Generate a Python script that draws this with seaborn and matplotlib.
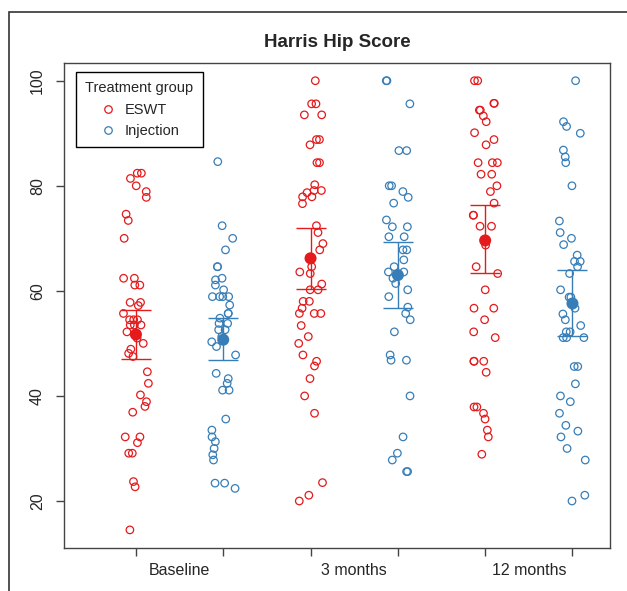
import pandas as pd
import numpy as np
import matplotlib
matplotlib.use("Agg")
import matplotlib.pyplot as plt
import seaborn as sns
from matplotlib.lines import Line2D
from matplotlib.patches import Rectangle

# ----------------------------
# Data
# ----------------------------
baseline_eswt = [82.4, 82.4, 81.4, 80.0, 78.9, 77.8, 74.6, 73.4, 70.0, 62.4, 62.4, 61.1,
                 61.1, 57.8, 57.8, 57.2, 55.7, 54.5, 54.5, 54.5, 53.5, 53.5, 53.5, 52.2,
                 51.0, 50.0, 48.9, 48.1, 47.5, 44.6, 42.4, 40.2, 38.9, 38.0, 36.9, 32.2,
                 32.2, 31.1, 29.1, 29.1, 23.7, 22.7, 14.5]
baseline_inj = [84.6, 72.4, 70.0, 67.8, 64.6, 64.6, 62.4, 62.1, 61.1, 60.2, 58.9, 58.9,
                58.9, 58.9, 57.3, 55.7, 55.7, 54.8, 53.8, 53.8, 52.6, 52.6, 51.3, 50.3,
                49.4, 47.8, 44.3, 43.3, 42.4, 41.1, 41.1, 35.6, 33.5, 32.2, 31.3, 30.0,
                28.8, 27.8, 23.4, 23.4, 22.4]
m3_eswt = [100.0, 95.6, 95.6, 93.5, 93.5, 88.8, 88.8, 87.8, 84.4, 84.4, 80.2, 79.1, 79.1,
           78.7, 77.9, 77.9, 76.6, 72.4, 71.1, 69.0, 67.8, 64.6, 63.6, 63.3, 61.3, 60.2,
           60.2, 58.0, 58.0, 56.7, 55.7, 55.7, 55.7, 53.4, 51.3, 50.0, 47.8, 46.6, 45.7,
           43.3, 40.0, 36.7, 23.5, 21.1, 20.0]
m3_inj = [100.0, 100.0, 95.6, 86.7, 86.7, 80.0, 80.0, 78.9, 77.8, 76.7, 73.5, 72.2, 72.2,
          70.3, 70.3, 67.8, 67.8, 65.9, 64.6, 63.6, 63.6, 62.4, 61.4, 60.2, 58.9, 56.9,
          55.7, 54.5, 52.2, 47.8, 46.8, 46.8, 40.0, 32.2, 29.1, 27.8, 25.6, 25.6]
m12_eswt = [100.0, 100.0, 95.7, 95.7, 94.4, 94.4, 93.3, 92.2, 90.1, 88.8, 87.8, 84.4, 84.4,
            84.4, 82.2, 82.2, 80.0, 78.9, 76.7, 74.4, 74.4, 72.3, 72.3, 68.7, 64.6, 63.3,
            60.2, 56.7, 56.7, 54.5, 52.2, 51.1, 46.6, 46.6, 46.6, 44.5, 37.9, 37.9, 36.7,
            35.6, 33.5, 32.2, 28.9]
m12_inj = [100.0, 92.2, 91.3, 90.0, 86.8, 85.5, 84.4, 80.0, 73.3, 71.1, 70.0, 68.8, 66.8,
           65.6, 65.6, 64.6, 63.3, 60.2, 58.8, 58.8, 56.7, 55.6, 54.5, 53.4, 52.2, 52.2,
           51.1, 51.1, 51.1, 45.6, 45.6, 42.3, 40.0, 38.9, 36.7, 34.4, 33.3, 32.2, 30.0,
           27.8, 21.1, 20.0]

groups = ["ESWT", "Injection", "ESWT", "Injection", "ESWT", "Injection"]
series = [baseline_eswt, baseline_inj, m3_eswt, m3_inj, m12_eswt, m12_inj]
x_pos = [1, 2, 3, 4, 5, 6]
time_labels = ["Baseline", "3 months", "12 months"]

# group means and 95% CI
means = [51.7, 50.7, 66.2, 63.0, 69.6, 57.6]
ci_low = [47.1, 46.8, 60.4, 56.7, 63.4, 51.4]
ci_high = [56.4, 54.8, 72.0, 69.3, 76.3, 63.9]

palette = {"ESWT": "#E41A1C", "Injection": "#377EB8"}

rows = []
for x, g, vals in zip(x_pos, groups, series):
    for v in vals:
        rows.append({"pos": x, "score": v, "group": g})
df = pd.DataFrame(rows)

summary = pd.DataFrame({"pos": x_pos, "group": groups, "mean": means,
                        "lo": ci_low, "hi": ci_high})

# ----------------------------
# Plot
# ----------------------------
sns.set_style("white")
plt.rcParams["font.family"] = ["Liberation Sans", "DejaVu Sans"]

fig = plt.figure(figsize=(6.27, 5.91), dpi=100)
ax = fig.add_axes([0.1026, 0.0728, 0.8703, 0.8211])

np.random.seed(3)
sns.stripplot(data=df, x="pos", y="score", hue="group", palette=palette,
              native_scale=True, jitter=0.15, size=5.4, linewidth=0.9,
              legend=False, ax=ax, zorder=2)

# open circles like R's pch=1
for coll in ax.collections:
    fc = coll.get_facecolors()
    coll.set_edgecolors(fc)
    coll.set_facecolors("none")

for g, sub in summary.groupby("group"):
    ax.errorbar(sub["pos"], sub["mean"],
                yerr=[sub["mean"] - sub["lo"], sub["hi"] - sub["mean"]],
                fmt="none", ecolor=palette[g], elinewidth=1.0, capsize=10.5,
                capthick=1.0, zorder=3)
sns.scatterplot(data=summary, x="pos", y="mean", hue="group", palette=palette,
                s=75, linewidth=0, legend=False, ax=ax, zorder=4)

ax.set_xlim(0.18, 6.43)
ax.set_ylim(11.06, 103.43)

ax.set_xticks(x_pos)
ax.set_xticklabels([])
ax.set_xticks([1.5, 3.5, 5.5], minor=True)
ax.set_xticklabels(time_labels, minor=True, fontsize=11.5)
ax.tick_params(axis="x", which="major", length=6, width=1, color="#444",
               direction="out", bottom=True)
ax.tick_params(axis="x", which="minor", length=0, pad=11)

ax.set_yticks([20, 40, 60, 80, 100])
ax.set_yticklabels(["20", "40", "60", "80", "100"], rotation=90, va="center",
                   fontsize=11.5)
ax.tick_params(axis="y", length=6, width=1, color="#444", direction="out",
               left=True, pad=8)

ax.set_xlabel("")
ax.set_ylabel("")
for sp in ax.spines.values():
    sp.set_visible(True)
    sp.set_color("#444")
    sp.set_linewidth(1.0)

ax.set_title("Harris Hip Score", fontsize=13.5, fontweight="bold", pad=11)

# ----------------------------
# Legend
# ----------------------------
handles = [Line2D([], [], marker="o", linestyle="none", markersize=5.4,
                  markerfacecolor="none", markeredgecolor=palette[g],
                  markeredgewidth=0.9) for g in ["ESWT", "Injection"]]
leg = ax.legend(handles, ["ESWT", "Injection"], title="Treatment group",
                loc="upper left", bbox_to_anchor=(0.0214, 0.981),
                borderaxespad=0, fontsize=10.5, title_fontsize=10.5,
                frameon=True, fancybox=False, framealpha=1, edgecolor="black",
                handlelength=1.1, handletextpad=0.6, labelspacing=0.5,
                borderpad=0.65)
leg.get_frame().set_linewidth(1.0)

# outer frame of the original device
fig.add_artist(Rectangle((9 / 627, -0.05), 1.0, 1 - 12 / 591 + 0.05,
                         transform=fig.transFigure, fill=False,
                         edgecolor="#333", linewidth=1.2))

fig.savefig("out.png", dpi=100)
